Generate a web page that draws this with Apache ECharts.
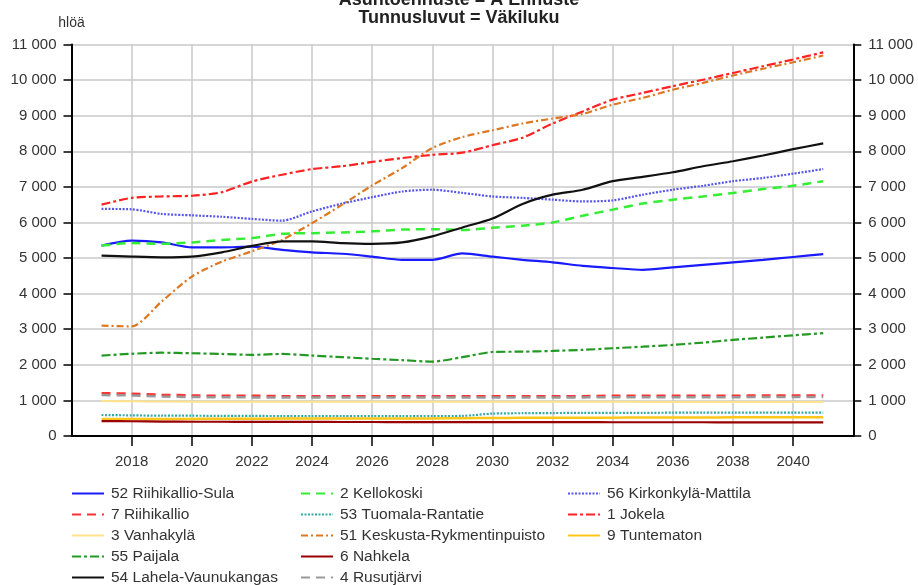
<!DOCTYPE html>
<html>
<head>
<meta charset="utf-8">
<script src="https://cdn.jsdelivr.net/npm/echarts@6/dist/echarts.min.js"></script>
<style>
html,body{margin:0;padding:0;background:#fff;}
#chart{width:918px;height:585px;}
</style>
</head>
<body>
<div id="chart"></div>
<script>
const years = [2017,2018,2019,2020,2021,2022,2023,2024,2025,2026,2027,2028,2029,2030,2031,2032,2033,2034,2035,2036,2037,2038,2039,2040,2041];

const riihikallioSula = [5350,5490,5440,5300,5300,5320,5230,5160,5120,5040,4950,4950,5130,5040,4950,4880,4780,4720,4670,4740,4810,4880,4950,5030,5110];
const kellokoski = [5350,5420,5400,5440,5510,5560,5680,5700,5720,5750,5800,5810,5790,5850,5910,6000,6190,6360,6530,6640,6730,6830,6940,7030,7160];
const kirkonkylaMattila = [6380,6370,6240,6200,6160,6100,6050,6310,6530,6710,6870,6920,6830,6730,6690,6640,6590,6620,6780,6920,7030,7160,7250,7370,7500];
const riihikallio = [1200,1190,1160,1140,1130,1130,1120,1120,1120,1120,1120,1120,1120,1120,1120,1120,1120,1130,1130,1130,1130,1130,1140,1140,1140];
const tuomalaRantatie = [590,580,570,570,565,565,560,560,560,560,560,560,565,630,640,645,650,650,650,655,655,655,655,655,655];
const jokela = [6500,6690,6730,6750,6850,7150,7340,7500,7580,7700,7810,7900,7960,8170,8380,8780,9120,9450,9640,9830,10010,10200,10390,10580,10780];
const vanhakyla = [980,975,970,965,965,960,960,960,960,960,960,960,960,960,960,960,960,960,958,958,956,956,956,956,956];
const keskusta = [3100,3080,3780,4480,4900,5190,5510,5980,6500,7040,7530,8090,8400,8590,8780,8920,9050,9310,9500,9730,9920,10130,10320,10500,10690];
const tuntematon = [480,480,480,480,485,485,490,490,490,490,495,495,500,505,510,510,515,515,520,520,520,525,525,525,525];
const paijala = [2260,2310,2340,2325,2305,2280,2305,2260,2215,2170,2130,2090,2215,2360,2370,2390,2420,2465,2510,2560,2625,2700,2765,2830,2890];
const nahkela = [420,415,405,400,400,398,396,395,394,393,392,391,390,390,389,388,388,387,387,386,386,385,385,385,385];
const lahela = [5070,5040,5020,5040,5160,5340,5470,5470,5420,5400,5440,5610,5860,6110,6520,6780,6920,7160,7280,7410,7580,7720,7880,8060,8220];
const rusutjarvi = [1150,1140,1110,1095,1090,1085,1085,1085,1085,1085,1085,1085,1085,1085,1085,1085,1085,1090,1090,1090,1090,1090,1095,1095,1095];

const FONT = "'Liberation Sans', Arial, sans-serif";
const TXT = '#333333';

function pairs(vals){ return years.map((y,i)=>[y, vals[i]]); }
function fmtThousands(v){ return String(v).replace(/\B(?=(\d{3})+(?!\d))/g, ' '); }

const defs = [
  {name:'52 Riihikallio-Sula', data:riihikallioSula, color:'#1a1aff', type:'solid', width:2.2},
  {name:'2 Kellokoski', data:kellokoski, color:'#33ee33', type:[9,6], width:2.5},
  {name:'56 Kirkonkylä-Mattila', data:kirkonkylaMattila, color:'#5555ee', type:[2,1.5], width:2.2},
  {name:'7 Riihikallio', data:riihikallio, color:'#ff3333', type:[9,6], width:2.5},
  {name:'53 Tuomala-Rantatie', data:tuomalaRantatie, color:'#33aaaa', type:[2,1.5], width:2.2},
  {name:'1 Jokela', data:jokela, color:'#ff2222', type:[9,3,3,3], width:2.2},
  {name:'3 Vanhakylä', data:vanhakyla, color:'#ffe28a', type:'solid', width:2},
  {name:'51 Keskusta-Rykmentinpuisto', data:keskusta, color:'#dd7722', type:[7,3,2,3], width:2.2},
  {name:'9 Tuntematon', data:tuntematon, color:'#ffc61a', type:'solid', width:2.5},
  {name:'55 Paijala', data:paijala, color:'#229922', type:[9,3,3,3], width:2.2},
  {name:'6 Nahkela', data:nahkela, color:'#990000', type:'solid', width:2.2},
  {name:'54 Lahela-Vaunukangas', data:lahela, color:'#111111', type:'solid', width:2.2},
  {name:'4 Rusutjärvi', data:rusutjarvi, color:'#999999', type:[9,6], width:2.5}
];

const series = defs.map(d => ({
  name: d.name,
  type: 'line',
  data: pairs(d.data),
  symbol: 'none',
  showSymbol: false,
  smooth: 0.25,
  color: d.color,
  lineStyle: {color: d.color, width: d.width, type: d.type},
  emphasis: {disabled: true},
  animation: false
}));

const col1 = ['52 Riihikallio-Sula','7 Riihikallio','3 Vanhakylä','55 Paijala','54 Lahela-Vaunukangas'];
const col2 = ['2 Kellokoski','53 Tuomala-Rantatie','51 Keskusta-Rykmentinpuisto','6 Nahkela','4 Rusutjärvi'];
const col3 = ['56 Kirkonkylä-Mattila','1 Jokela','9 Tuntematon'];

function legend(data, left){
  return {
    data: data, left: left, top: 485, orient: 'vertical',
    height: 140, padding: 0,
    itemWidth: 32, itemHeight: 14, itemGap: 4,
    selectedMode: false,
    itemStyle: {opacity: 0},
    textStyle: {fontFamily: FONT, fontSize: 15.5, color: TXT, lineHeight: 17, padding: [0,0,0,2]},
    lineStyle: {inherit: true}
  };
}

const yCommon = {
  type: 'value', min: 0, max: 11000, interval: 1000,
  axisLine: {show: true, onZero: false, lineStyle: {color: '#000', width: 2}},
  axisTick: {show: true, inside: false, length: 8, lineStyle: {color: '#000', width: 1.5}},
  axisLabel: {fontFamily: FONT, fontSize: 15, color: TXT, margin: 15,
    formatter: v => fmtThousands(v)}
};

const option = {
  backgroundColor: '#ffffff',
  animation: false,
  title: {
    text: 'Asuntoennuste = A Ennuste\nTunnusluvut = Väkiluku',
    left: 'center', top: -14, padding: [5, 0, 5, 8],
    textStyle: {fontFamily: FONT, fontSize: 18, fontWeight: 'bold', color: '#222', lineHeight: 18}
  },
  grid: {left: 71.5, right: 64.7, top: 44.5, bottom: 149, containLabel: false},
  legend: [legend(col1, 71), legend(col2, 300), legend(col3, 567)],
  xAxis: {
    type: 'value', min: 2016, max: 2042, interval: 2,
    axisLine: {show: true, onZero: false, lineStyle: {color: '#000', width: 2}},
    axisTick: {show: true, length: 10, lineStyle: {color: '#000', width: 1.5}},
    axisLabel: {fontFamily: FONT, fontSize: 15, color: TXT, margin: 18,
      showMinLabel: false, showMaxLabel: false, formatter: v => String(v)},
    splitLine: {show: true, lineStyle: {color: '#c8c8c8', width: 1.5}}
  },
  yAxis: [
    Object.assign({}, yCommon, {
      position: 'left', name: 'hlöä', nameLocation: 'end', nameGap: 14,
      nameTextStyle: {fontFamily: FONT, fontSize: 14, color: TXT},
      splitLine: {show: true, lineStyle: {color: '#c8c8c8', width: 1.5}}
    }),
    Object.assign({}, yCommon, {
      position: 'right', splitLine: {show: false}
    })
  ],
  series: series
};

const chart = echarts.init(document.getElementById('chart'), null, {renderer: 'canvas'});
chart.setOption(option);
</script>
</body>
</html>
